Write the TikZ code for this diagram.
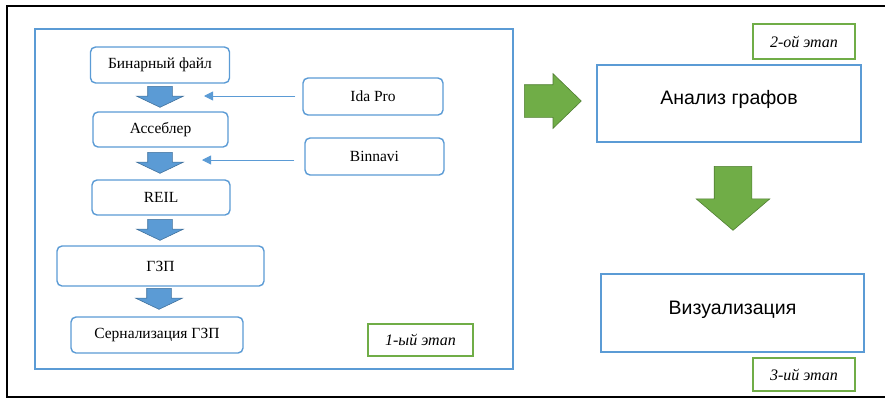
\documentclass[tikz,border=0pt]{standalone}
\usepackage{fontspec}
\setmainfont{Liberation Serif}
\newfontfamily\arialfont{Liberation Sans}
\usepackage{tikz}
\usetikzlibrary{
  positioning,
  shapes.arrows,
  arrows.meta
}
\definecolor{sinij}{HTML}{5B9BD5}
\definecolor{sinijtemn}{HTML}{41719C}
\definecolor{zelen}{HTML}{70AD47}
\definecolor{zelentemn}{HTML}{507E32}
\tikzset{
  blok/.style={draw=sinij,line width=1.4pt,rounded corners=5pt,fill=white,inner sep=0pt,font=\fontsize{15.5}{17}\selectfont},
  bolshoj/.style={draw=sinij,line width=1.8pt,fill=white,inner sep=0pt,font=\arialfont\fontsize{19.5}{21}\selectfont},
  etap/.style={draw=zelen,line width=1.8pt,fill=white,inner sep=0pt,font=\itshape\fontsize{16}{18}\selectfont},
  vniz/.style={single arrow,rotate=270,anchor=tail,draw=sinijtemn,fill=sinij,line width=0.6pt,inner xsep=0pt,inner ysep=12pt,
    minimum height=21pt,single arrow head extend=11pt,single arrow tip angle=129,single arrow head indent=0pt},
  zstrelka/.style={single arrow,anchor=tail,draw=zelentemn,fill=zelen,line width=0.6pt,inner xsep=0pt,single arrow head indent=0pt},
  tonkaja/.style={draw=sinij,line width=0.9pt,-{Triangle[length=9pt,width=9pt]}}
}
\begin{document}
\begin{tikzpicture}[x=1pt,y=-1pt]
            \useasboundingbox (0,0) rectangle (885,400);
            \draw[line width=2pt] (885,6) -- (7,6) -- (7,397) -- (885,397);
            \draw[sinij,line width=2pt] (35,29) rectangle (513,369);
            \node[blok,minimum width=139pt,minimum height=36pt] (bin) at (160,65) {Бинарный файл};
            \node[blok,minimum width=135pt,minimum height=35pt] (asm) at (160.5,129.5) {Ассеблер};
            \node[blok,minimum width=138pt,minimum height=35pt] (reil) at (161,197.5) {REIL};
            \node[blok,minimum width=207pt,minimum height=40pt] (gzp) at (160.5,266) {ГЗП};
            \node[blok,minimum width=172pt,minimum height=36pt] (ser) at (157,335) {Сернализация ГЗП};
            \node[blok,minimum width=140pt,minimum height=37pt] (ida) at (373,96.5) {Ida Pro};
            \node[blok,minimum width=139pt,minimum height=37pt] (binn) at (374.5,156.5) {Binnavi};
            \node[vniz] (s1) at (160,86) {};
            \node[vniz] (s2) at (160,152) {};
            \node[vniz] (s3) at (160,219) {};
            \node[vniz] (s4) at (159,288) {};
            \coordinate (idatip) at (204,96);
            \coordinate (binntip) at (202,160);
            \draw[tonkaja,shorten <=7pt] (ida.west |- idatip) -- (idatip);
            \draw[tonkaja,shorten <=10pt] (binn.west |- binntip) -- (binntip);
            \node[etap,minimum width=105pt,minimum height=32pt] (et1) at (420.5,340) {1-ый этап};
            \node[zstrelka,inner ysep=16pt,minimum height=57pt,single arrow head extend=11pt,single arrow tip angle=88] (zs1) at (524,101) {};
            \node[bolshoj,minimum width=264pt,minimum height=77pt] (anal) at (729,103.5) {\raisebox{12pt}{Анализ графов}};
            \node[etap,minimum width=102pt,minimum height=35pt] (et2) at (804,41.5) {2-ой этап};
            \node[zstrelka,rotate=270,inner ysep=18.5pt,minimum height=64pt,single arrow head extend=18pt,single arrow tip angle=99] (zs2) at (733,166) {};
            \node[bolshoj,minimum width=263pt,minimum height=78pt] (vis) at (732.5,313) {\raisebox{10pt}{Визуализация}};
            \node[etap,minimum width=102pt,minimum height=33pt] (et3) at (804,374.5) {3-ий этап};
        \end{tikzpicture}
\end{document}
